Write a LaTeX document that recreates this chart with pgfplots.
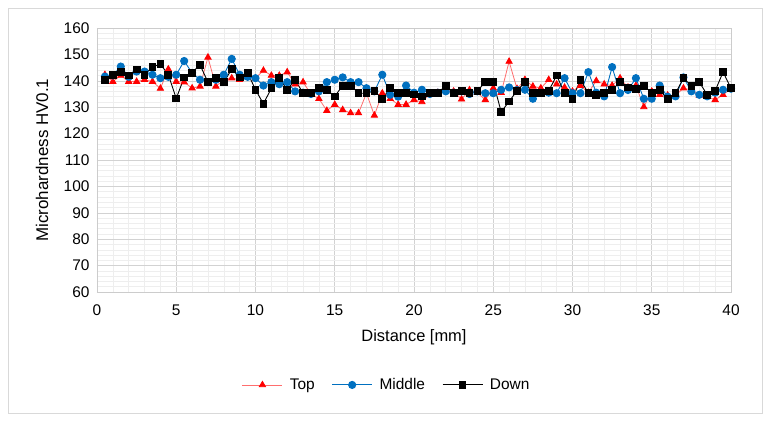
\documentclass[border=0pt]{standalone}
\usepackage{pgfplots}
\pgfplotsset{compat=1.18}
\usepackage{fontspec}
\setmainfont{Liberation Sans}
\definecolor{cblue}{RGB}{0,112,192}
\definecolor{cred}{RGB}{255,0,0}
\definecolor{clred}{RGB}{255,110,110}
\begin{document}
\begin{tikzpicture}
\fill[white] (-97bp,-129bp) rectangle (673bp,292bp);
\draw[gray!30, line width=0.8bp] (-89bp,-121bp) rectangle (665bp,284bp);
\begin{axis}[
  at={(0,0)}, anchor=south west,
  scale only axis, width=634bp, height=264bp,
  xmin=0, xmax=40, ymin=60, ymax=160,
  xtick={0,5,...,40}, ytick={60,70,...,160},
  minor x tick num=4, minor y tick num=4,
  grid=both,
  major grid style={gray!35, line width=0.6bp},
  minor grid style={gray!13, line width=0.5bp},
  axis line style={gray!40, line width=0.6bp},
  major tick length=0pt, minor tick length=0pt,
  /pgf/number format/assume math mode=true,
  tick label style={font=\fontsize{15.5}{18}\selectfont},
  xticklabel style={yshift=-9bp},
  yticklabel style={xshift=-4bp},
  xlabel={Distance [mm]},
  ylabel={Microhardness HV0.1},
  xlabel style={font=\fontsize{16.5}{19}\selectfont, at={(rel axis cs:0.5,-0.17)}, anchor=center},
  ylabel style={font=\fontsize{17}{20}\selectfont, at={(rel axis cs:-0.0868,0.5)}, anchor=center},
  legend columns=3,
  legend style={at={(rel axis cs:0.457,-0.352)}, anchor=center, draw=none,
    font=\fontsize{15.5}{18}\selectfont, inner sep=0pt,
    /tikz/every odd column/.append style={column sep=5bp},
    /tikz/every even column/.append style={column sep=15bp}},
  legend image code/.code={\draw[mark repeat=2,mark phase=2] plot coordinates {(0bp,0bp) (20bp,0bp) (40bp,0bp)};},
]
\addplot[clred, line width=0.8bp, mark=triangle*, mark size=3.6bp, mark options={draw=cred, fill=cred}] coordinates {
(0.5,142.3)(1,139.7)(1.5,142)(2,139.7)(2.5,139.7)(3,140.4)(3.5,139.7)(4,137.1)(4.5,144.4)(5,139.7)
(5.5,139.5)(6,137.2)(6.5,137.9)(7,148.9)(7.5,137.9)(8,140.4)(8.5,141)(9,140.4)(9.5,141.5)(10,141)
(10.5,143.9)(11,142)(11.5,142)(12,143.3)(12.5,138.7)(13,139.5)(13.5,135)(14,133.2)(14.5,128.7)(15,131)
(15.5,129)(16,127.8)(16.5,127.8)(17,135.3)(17.5,126.9)(18,135.3)(18.5,133.2)(19,131)(19.5,131)(20,132.8)
(20.5,132)(21,135)(21.5,135.5)(22,136.5)(22.5,136)(23,133)(23.5,136.5)(24,135.5)(24.5,132.8)(25,137.2)
(25.5,135.5)(26,147.3)(26.5,137)(27,140.4)(27.5,137.9)(28,137.2)(28.5,140.4)(29,138.7)(29.5,137.5)(30,136)
(30.5,138.2)(31,135.5)(31.5,140)(32,138.7)(32.5,138.2)(33,141)(33.5,137.5)(34,138.2)(34.5,130.1)(35,136)
(35.5,134.7)(36,134.5)(36.5,134.5)(37,137.2)(37.5,136.5)(38,134.5)(38.5,134)(39,132.8)(39.5,134.7)(40,137)
};
\addlegendentry{Top}
\addplot[cblue, line width=0.9bp, mark=*, mark size=3.6bp, mark options={draw=cblue, fill=cblue}] coordinates {
(0.5,141.6)(1,142)(1.5,145.4)(2,141.5)(2.5,143.5)(3,143.5)(3.5,142.3)(4,141)(4.5,141.5)(5,142.3)
(5.5,147.5)(6,143)(6.5,140.4)(7,139.5)(7.5,140.4)(8,142.3)(8.5,148.3)(9,142.3)(9.5,141.5)(10,141)
(10.5,138.2)(11,139.5)(11.5,138.7)(12,139.5)(12.5,136)(13,135.5)(13.5,135)(14,136)(14.5,139.5)(15,140.4)
(15.5,141.3)(16,139.5)(16.5,139.5)(17,137.2)(17.5,136)(18,142.3)(18.5,134.7)(19,134)(19.5,138.2)(20,135.5)
(20.5,136.6)(21,135)(21.5,135.5)(22,136)(22.5,135.5)(23,136)(23.5,135)(24,136)(24.5,135.3)(25,135.3)
(25.5,136.6)(26,137.5)(26.5,136.5)(27,136.6)(27.5,133.2)(28,135.5)(28.5,135.5)(29,135.3)(29.5,141)(30,135.3)
(30.5,135.3)(31,143.3)(31.5,135.5)(32,134.1)(32.5,145.2)(33,135.3)(33.5,136.5)(34,141)(34.5,133.2)(35,133.2)
(35.5,138.2)(36,134)(36.5,134.1)(37,141.3)(37.5,136)(38,134.7)(38.5,134.1)(39,135.5)(39.5,136.6)(40,137)
};
\addlegendentry{Middle}
\addplot[black, line width=0.9bp, mark=square*, mark size=3.4bp, mark options={draw=black, fill=black}] coordinates {
(0.5,140.4)(1,142.3)(1.5,143.3)(2,142)(2.5,144.3)(3,142.3)(3.5,145.3)(4,146.3)(4.5,142.3)(5,133.3)
(5.5,141.3)(6,143.1)(6.5,146)(7,139.5)(7.5,141)(8,139.5)(8.5,144.4)(9,141.3)(9.5,143.1)(10,136.6)
(10.5,131.3)(11,137.2)(11.5,141)(12,136.6)(12.5,140.4)(13,135.3)(13.5,135.3)(14,137.2)(14.5,136.6)(15,134.1)
(15.5,138.2)(16,138.2)(16.5,135.3)(17,135.3)(17.5,136.2)(18,133.2)(18.5,137.2)(19,135.3)(19.5,135.3)(20,134.8)
(20.5,134.1)(21,135.3)(21.5,135.3)(22,138.2)(22.5,135.3)(23,136.2)(23.5,135.3)(24,136.2)(24.5,139.5)(25,139.5)
(25.5,128.2)(26,132.2)(26.5,136.2)(27,139.5)(27.5,135.3)(28,135.3)(28.5,136.2)(29,142)(29.5,135.3)(30,133.2)
(30.5,140.4)(31,135.3)(31.5,134.7)(32,135.3)(32.5,136.6)(33,139.5)(33.5,137.5)(34,137)(34.5,138.2)(35,135.3)
(35.5,136.4)(36,133.2)(36.5,135.3)(37,141)(37.5,138.2)(38,139.5)(38.5,134.7)(39,136.2)(39.5,143.3)(40,137.2)
};
\addlegendentry{Down}
\end{axis}
\end{tikzpicture}
\end{document}
